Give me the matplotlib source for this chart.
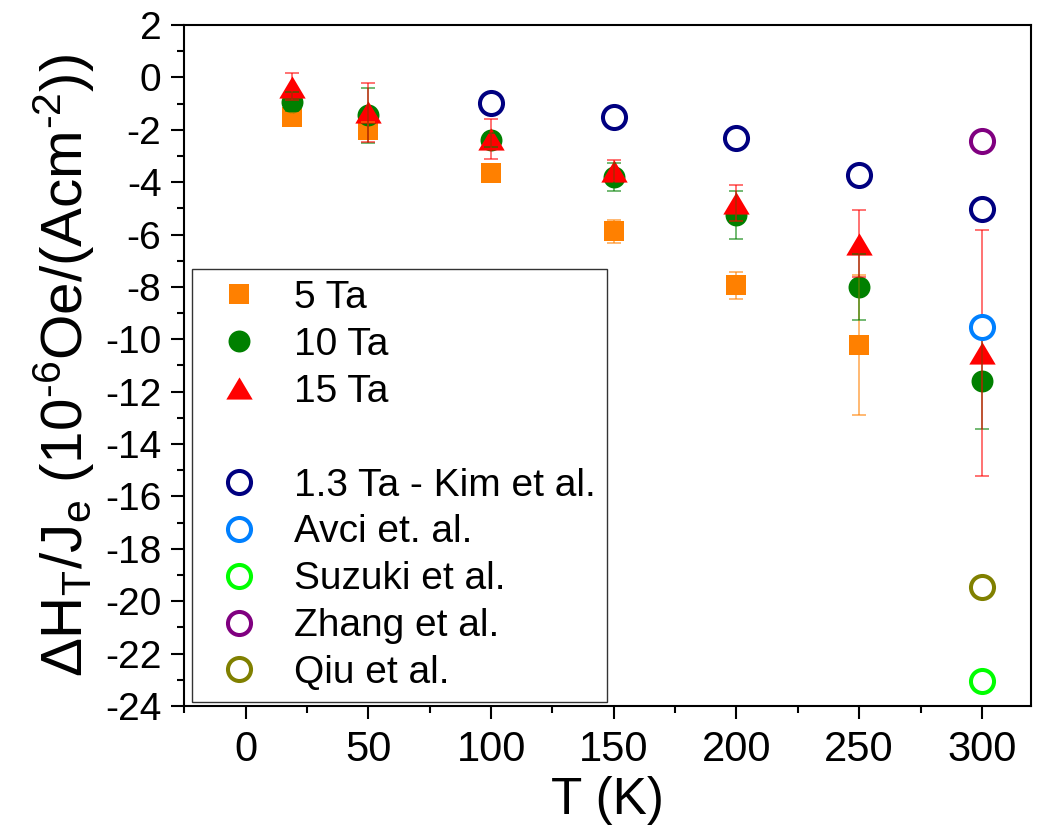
import matplotlib

matplotlib.use('Agg')
import matplotlib.pyplot as plt
import numpy as np
from matplotlib.lines import Line2D
from matplotlib.ticker import MultipleLocator, AutoMinorLocator

plt.rcParams['font.family'] = ['Liberation Sans', 'DejaVu Sans']
plt.rcParams['mathtext.default'] = 'regular'
plt.rcParams['axes.unicode_minus'] = False

# Measured spin-orbit torque efficiency vs temperature
T_5 = [19, 50, 100, 150, 200, 250]
ta5 = [-1.50, -2.01, -3.66, -5.88, -7.94, -10.22]
ta5_err = [0.15, 0.3, 0.15, 0.44, 0.52, 2.66]

T_10 = [19, 50, 100, 150, 200, 250, 300]
ta10 = [-0.93, -1.44, -2.39, -3.80, -5.25, -8.00, -11.58]
ta10_err = [0.36, 1.05, 0.25, 0.53, 0.92, 1.26, 1.86]

T_15 = [19, 50, 100, 150, 200, 250, 300]
ta15 = [-0.35, -1.34, -2.34, -3.57, -4.80, -6.35, -10.52]
ta15_err = [0.50, 1.11, 0.76, 0.40, 0.68, 1.29, 4.70]

# Literature values
kim_T = [100, 150, 200, 250, 300]
kim = [-0.99, -1.52, -2.31, -3.73, -5.01]
lit_names = ['Avci et. al.', 'Suzuki et al.', 'Zhang et al.', 'Qiu et al.']
lit_T = [300, 300, 300, 300]
lit_vals = [-9.52, -23.05, -2.42, -19.45]
lit_colors = ['#0080ff', '#00ff00', '#800080', '#808000']

tri = [(0, 0.84), (-1, -0.84), (1, -0.84), (0, 0.84)]

fig = plt.figure(figsize=(10.42, 8.35), dpi=100)
ax = fig.add_axes([0.1769, 0.1545, 0.8125, 0.8156])

series = [
    (T_5, ta5, ta5_err, '#ff8000', 's', 14.2, '5 Ta'),
    (T_10, ta10, ta10_err, '#008000', 'o', 15.8, '10 Ta'),
    (T_15, ta15, ta15_err, '#ff0000', tri, 19.0, '15 Ta'),
]

handles = []
for x, y, e, c, m, ms, lab in series:
    h, = ax.plot(x, y, linestyle='none', marker=m, markersize=ms,
                 markerfacecolor=c, markeredgewidth=0, color=c, zorder=2, label=lab)
    handles.append(h)

# error bars sit on top of the filled symbols
for x, y, e, c, m, ms, lab in series:
    ax.errorbar(x, y, yerr=e, fmt='none', ecolor=c, elinewidth=1.1,
                capsize=4.7, capthick=1.1, alpha=0.7, zorder=3)

handles.append(Line2D([], [], linestyle='none', marker='none', label=' '))

open_kw = dict(linestyle='none', marker='o', markersize=16.6,
               markerfacecolor='white', markeredgewidth=2.9, zorder=4)
h, = ax.plot(kim_T, kim, markeredgecolor='#000080', label='1.3 Ta - Kim et al.', **open_kw)
handles.append(h)
for t, v, c, n in zip(lit_T, lit_vals, lit_colors, lit_names):
    h, = ax.plot([t], [v], markeredgecolor=c, label=n, **open_kw)
    handles.append(h)

ax.set_xlim(-25, 320)
ax.set_ylim(-24, 2)
ax.xaxis.set_major_locator(MultipleLocator(50))
ax.xaxis.set_minor_locator(AutoMinorLocator(2))
ax.yaxis.set_major_locator(MultipleLocator(2))
ax.yaxis.set_minor_locator(AutoMinorLocator(2))

ax.tick_params(which='both', direction='out', width=1.5, top=False, right=False)
ax.tick_params(which='major', length=9.5)
ax.tick_params(which='minor', length=5)
ax.tick_params(axis='y', labelsize=28, pad=7)
ax.tick_params(axis='x', labelsize=30, pad=8)
for spine in ax.spines.values():
    spine.set_linewidth(1.5)

ax.set_xlabel('T (K)', fontsize=37, labelpad=4)
ax.set_ylabel('$\\Delta$H$_T$/J$_e$ (10$^{\u2010 6}$Oe/(Acm$^{\u2010 2}$))',
              fontsize=42, labelpad=6)

leg = ax.legend(handles=handles, loc='lower left', bbox_to_anchor=(0.0087, 0.0059),
                borderaxespad=0, fontsize=28, frameon=True, fancybox=False,
                edgecolor='#333333', framealpha=1, labelspacing=0.28,
                handlelength=1.85, handletextpad=0.5, borderpad=0.28)
leg.get_frame().set_linewidth(1.0)

fig.savefig('out.png', dpi=100)
